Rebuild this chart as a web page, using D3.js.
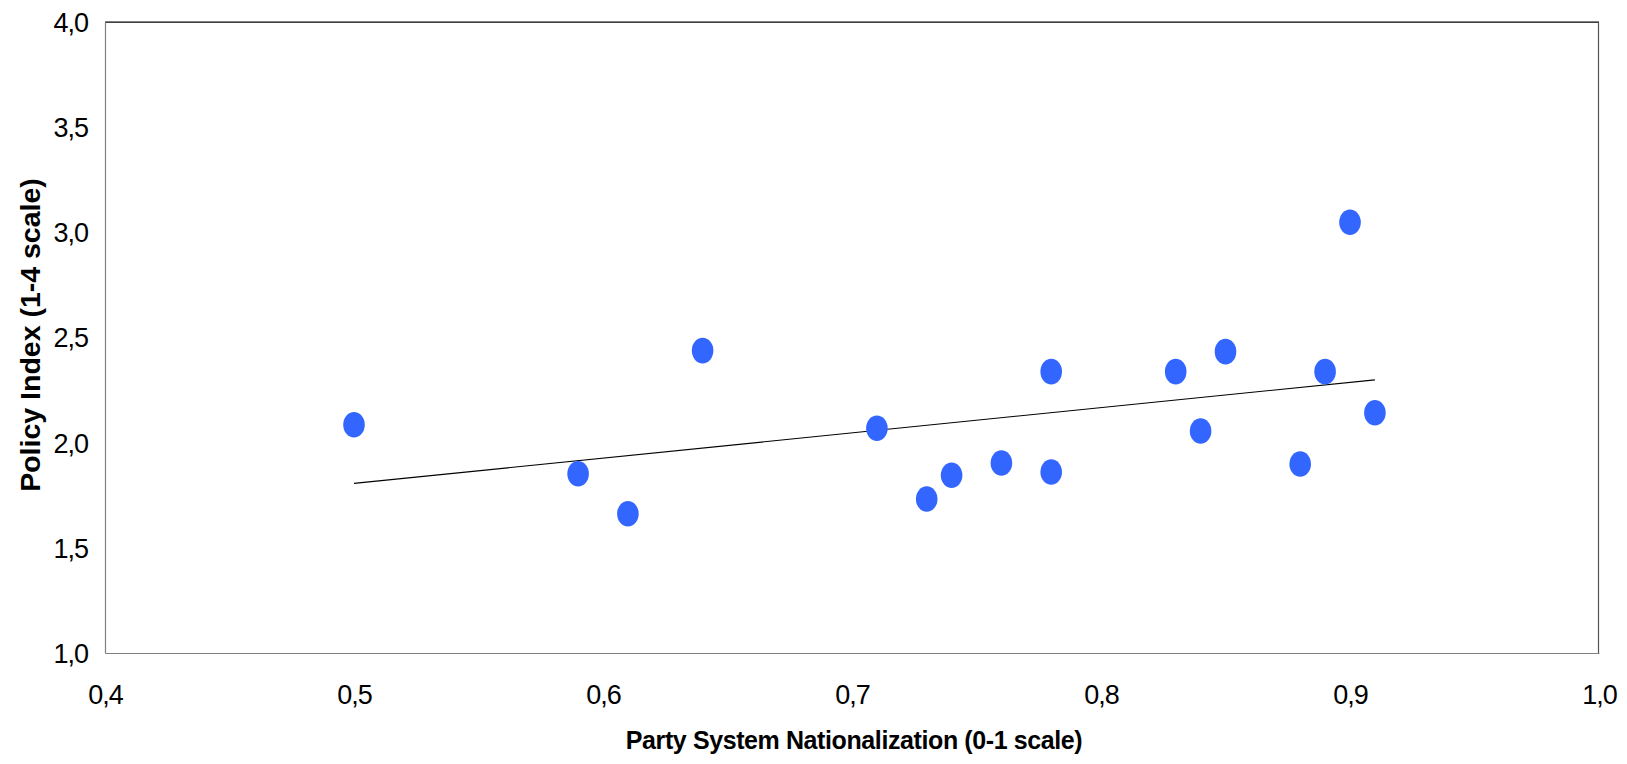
<!DOCTYPE html>
<html>
<head>
<meta charset="utf-8">
<script src="https://cdn.jsdelivr.net/npm/d3@7"></script>
<style>
  html, body { margin: 0; padding: 0; background: #fff; }
  svg { display: block; }
  text { font-family: "Liberation Sans", Arial, Helvetica, sans-serif; fill: #000; }
</style>
</head>
<body>
<svg id="chart" width="1627" height="764"></svg>
<script>
// Data
const nationalization = [0.50, 0.59, 0.61, 0.64, 0.71, 0.73, 0.74, 0.76, 0.78, 0.78, 0.83, 0.84, 0.85, 0.88, 0.89, 0.90, 0.91];
const policyIndex     = [2.085, 1.852, 1.662, 2.437, 2.068, 1.732, 1.845, 1.903, 2.337, 1.860, 2.337, 2.055, 2.432, 1.898, 2.337, 3.047, 2.142];
const xTicks = [0.4, 0.5, 0.6, 0.7, 0.8, 0.9, 1.0];
const yTicks = [1.0, 1.5, 2.0, 2.5, 3.0, 3.5, 4.0];
const xTitle = "Party System Nationalization (0-1 scale)";
const yTitle = "Policy Index (1-4 scale)";

const svg = d3.select("#chart");
const M = { left: 105, right: 1599, top: 21.7, bottom: 653 };

const x = d3.scaleLinear().domain([0.4, 1.0]).range([M.left, M.right]);
const y = d3.scaleLinear().domain([1.0, 4.0]).range([M.bottom, M.top]);

const loc = d3.formatLocale({ decimal: ",", thousands: ".", grouping: [3], currency: ["", ""] });
const fmt = loc.format(".1f");

// Frame
svg.append("rect").attr("x", M.left).attr("y", M.top)
  .attr("width", M.right - M.left).attr("height", M.bottom - M.top)
  .attr("fill", "#fff");
svg.append("line").attr("x1", M.left).attr("x2", M.right).attr("y1", M.top + 0.5).attr("y2", M.top + 0.5)
  .attr("stroke", "#000").attr("stroke-width", 1.2);
svg.append("line").attr("x1", M.right - 0.5).attr("x2", M.right - 0.5).attr("y1", M.top).attr("y2", M.bottom)
  .attr("stroke", "#555").attr("stroke-width", 1.2);

// Y axis
const yAxis = svg.append("g").attr("transform", `translate(${M.left},0)`)
  .call(d3.axisLeft(y).tickValues(yTicks).tickFormat(fmt).tickSize(0).tickPadding(17));
yAxis.select(".domain").attr("stroke", "#808080").attr("stroke-width", 1.2);
yAxis.selectAll("text").style("font-size", "27px").style("letter-spacing", "-1px")
  .attr("font-family", null).attr("dy", "0.35em");

// X axis
const xAxis = svg.append("g").attr("transform", `translate(0,${M.bottom})`)
  .call(d3.axisBottom(x).tickValues(xTicks).tickFormat(fmt).tickSize(0));
xAxis.select(".domain").attr("stroke", "#808080").attr("stroke-width", 1.2);
xAxis.selectAll("text").style("font-size", "27px").style("letter-spacing", "-1px")
  .attr("font-family", null).attr("y", 704 - M.bottom).attr("dy", null);

// Trend line (least squares fit over data extent)
const n = nationalization.length;
const mx = d3.mean(nationalization), my = d3.mean(policyIndex);
let sxy = 0, sxx = 0;
for (let i = 0; i < n; i++) {
  sxy += (nationalization[i] - mx) * (policyIndex[i] - my);
  sxx += (nationalization[i] - mx) ** 2;
}
const slope = sxy / sxx, icpt = my - slope * mx;
const [xmin, xmax] = d3.extent(nationalization);
svg.append("path")
  .datum([xmin, xmax])
  .attr("d", d3.line().x(d => x(d)).y(d => y(icpt + slope * d)))
  .attr("stroke", "#000").attr("stroke-width", 1.1).attr("fill", "none");

// Points
svg.append("g").selectAll("ellipse")
  .data(d3.range(n))
  .join("ellipse")
  .attr("cx", i => x(nationalization[i]))
  .attr("cy", i => y(policyIndex[i]))
  .attr("rx", 10.8).attr("ry", 12.8)
  .attr("fill", "#3366FF");

// Axis titles
svg.append("text")
  .attr("x", 854).attr("y", 749)
  .attr("text-anchor", "middle")
  .style("font-size", "25px").style("font-weight", "bold").style("letter-spacing", "-0.4px")
  .text(xTitle);

svg.append("text")
  .attr("transform", "translate(40,335) rotate(-90)")
  .attr("text-anchor", "middle")
  .style("font-size", "28.5px").style("font-weight", "bold")
  .text(yTitle);
</script>
</body>
</html>
